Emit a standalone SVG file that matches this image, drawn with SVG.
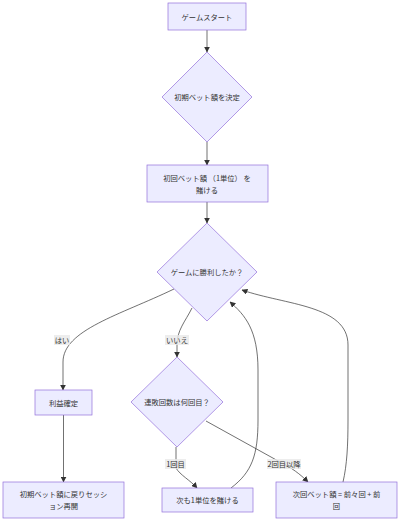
<svg xmlns="http://www.w3.org/2000/svg" width="400" height="522" viewBox="0 0 400 522">
<defs>
<style>
.n{fill:#ECECFF;stroke:#9370DB;stroke-width:0.7}
.t{font-family:"Noto Sans CJK JP","Liberation Sans",sans-serif;font-size:7.3px;fill:#333;text-anchor:middle;dominant-baseline:central}
.e{fill:none;stroke:#333;stroke-width:0.7;marker-end:url(#ah)}
.lb{fill:#E8E8E8;opacity:0.8}
</style>
<marker id="ah" viewBox="0 0 10 10" refX="9" refY="5" markerWidth="6" markerHeight="6" markerUnits="userSpaceOnUse" orient="auto">
<path d="M0,0 L10,5 L0,10 z" fill="#333"/>
</marker>
</defs>
<rect width="400" height="522" fill="#fff"/>
<g id="edges">
<path class="e" d="M207,30 L207,52"/>
<path class="e" d="M207,142 L207,165"/>
<path class="e" d="M207,202 L207,223"/>
<path class="e" d="M174,289 C120,315 63,330 63,362 L63,390"/>
<path class="e" d="M192,308 C185,322 177,330 177,345 L177,357"/>
<path class="e" d="M63.5,415 L63.5,482"/>
<path class="e" d="M176,447 L176,468 C180,475 190,480 197,488"/>
<path class="e" d="M206,421 L280,462 C292,468 300,474 308,482"/>
<path class="e" d="M231,488 C252,472 258,455 258,420 L258,370 C258,330 245,315 230,302"/>
<path class="e" d="M343,482 C347,465 348,445 348,420 L348,345 C348,305 285,305 242,290"/>
</g>
<g id="labels">
<rect class="lb" x="54" y="335" width="16" height="10"/><text class="t" x="62" y="340">はい</text>
<rect class="lb" x="165" y="335" width="24" height="10"/><text class="t" x="177" y="340">いいえ</text>
<rect class="lb" x="165" y="459" width="21" height="10"/><text class="t" x="175.5" y="464">1回目</text>
<rect class="lb" x="267" y="459" width="34" height="10"/><text class="t" x="284" y="464">2回目以降</text>
</g>
<g id="start"><rect class="n" x="168" y="3" width="78" height="27"/><text class="t" x="207" y="16.5">ゲームスタート</text></g>
<g id="decide"><polygon class="n" points="207,52 252,97 207,142 162,97"/><text class="t" x="207" y="97">初期ベット額を決定</text></g>
<g id="bet1"><rect class="n" x="147" y="165" width="121" height="37"/><text class="t" x="207" y="178">初回ベット額 （1単位） を</text><text class="t" x="207" y="190">賭ける</text></g>
<g id="win"><polygon class="n" points="207,223 257,272 207,321 157,272"/><text class="t" x="207" y="272">ゲームに勝利したか？</text></g>
<g id="profit"><rect class="n" x="35" y="390" width="57" height="25"/><text class="t" x="63.5" y="402.5">利益確定</text></g>
<g id="losses"><polygon class="n" points="177,357 223,402 177,447 131,402"/><text class="t" x="177" y="402">連敗回数は何回目？</text></g>
<g id="reset"><rect class="n" x="3" y="482" width="121" height="36"/><text class="t" x="63.5" y="494">初期ベット額に戻りセッシ</text><text class="t" x="63.5" y="506">ョン再開</text></g>
<g id="one"><rect class="n" x="162" y="488" width="91" height="24"/><text class="t" x="207.5" y="500">次も1単位を賭ける</text></g>
<g id="fib"><rect class="n" x="276" y="482" width="121" height="36"/><text class="t" x="336.5" y="494">次回ベット額 = 前々回 + 前</text><text class="t" x="336.5" y="506">回</text></g>
</svg>
